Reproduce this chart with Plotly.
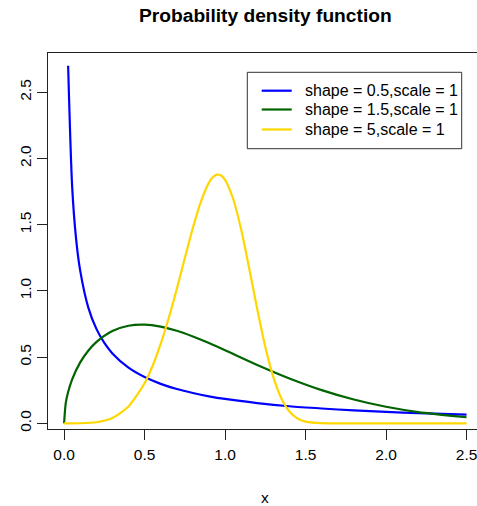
import plotly.graph_objects as go

# Values
x_blue = [0.025, 0.05, 0.075, 0.1, 0.15, 0.2, 0.25, 0.3, 0.4, 0.5, 0.6, 0.7, 0.8, 0.9, 1.0,
          1.2, 1.4, 1.6, 1.8, 2.0, 2.2, 2.5]
y_blue = [2.700, 1.788, 1.388, 1.153, 0.876, 0.715, 0.607, 0.528, 0.420, 0.349, 0.298, 0.259,
          0.229, 0.204, 0.184, 0.153, 0.129, 0.112, 0.097, 0.086, 0.077, 0.065]

x_green = [0.0, 0.01, 0.025, 0.05, 0.1, 0.15, 0.2, 0.3, 0.4, 0.5, 0.6, 0.7, 0.8, 0.9, 1.0,
           1.2, 1.4, 1.6, 1.8, 2.0, 2.2, 2.5]
y_green = [0.0, 0.150, 0.236, 0.332, 0.460, 0.548, 0.613, 0.697, 0.737, 0.745, 0.730, 0.699,
           0.656, 0.606, 0.552, 0.441, 0.339, 0.251, 0.180, 0.125, 0.085, 0.046]

x_gold = [0.0, 0.1, 0.2, 0.3, 0.4, 0.5, 0.55, 0.6, 0.65, 0.7, 0.75, 0.8, 0.85, 0.9, 0.925,
          0.95, 0.975, 1.0, 1.05, 1.1, 1.15, 1.2, 1.25, 1.3, 1.35, 1.4, 1.45, 1.5, 1.6, 1.8,
          2.0, 2.5]
y_gold = [0.0, 0.0005, 0.008, 0.040, 0.127, 0.303, 0.435, 0.600, 0.795, 1.015, 1.248, 1.476,
          1.675, 1.818, 1.860, 1.879, 1.872, 1.839, 1.696, 1.463, 1.170, 0.862, 0.577, 0.349,
          0.188, 0.089, 0.036, 0.013, 0.001, 0.0, 0.0, 0.0]

series_names = ["shape = 0.5,scale = 1", "shape = 1.5,scale = 1", "shape = 5,scale = 1"]
series_colors = ["#0000FF", "#006400", "#FFD700"]
x_ticks = [0.0, 0.5, 1.0, 1.5, 2.0, 2.5]
x_tick_labels = ["0.0", "0.5", "1.0", "1.5", "2.0", "2.5"]
y_ticks = [0.0, 0.5, 1.0, 1.5, 2.0, 2.5]
y_tick_labels = ["0.0", "0.5", "1.0", "1.5", "2.0", "2.5"]

FONT = "Liberation Sans, Arial, sans-serif"

# plot area spans screen x 48..477, y 53..429 (page body margin removed below)
PL, PT, PW, PH = 48.0, 53.0, 429.0, 376.0


def px(sx):
    return (sx - PL) / PW


def py(sy):
    return (PT + PH - sy) / PH


fig = go.Figure()
for xs, ys, name, col in zip([x_blue, x_green, x_gold], [y_blue, y_green, y_gold],
                             series_names, series_colors):
    fig.add_trace(go.Scatter(x=xs, y=ys, mode="lines", name=name, showlegend=False,
                             line=dict(color=col, width=2.2, shape="spline", smoothing=0.7)))

shapes = [dict(type="rect", xref="paper", yref="paper", x0=px(247.3), x1=px(461.7),
               y0=py(148.7), y1=py(72.3), line=dict(color="#333333", width=1),
               fillcolor="white", layer="above")]
annotations = []
row_y = [90.7, 109.5, 129.5]
for name, col, ry in zip(series_names, series_colors, row_y):
    shapes.append(dict(type="line", xref="paper", yref="paper", x0=px(261.7), x1=px(291.7),
                       y0=py(ry), y1=py(ry), line=dict(color=col, width=2.2), layer="above"))
    annotations.append(dict(text=name, xref="paper", yref="paper", x=px(304), y=py(ry),
                            xanchor="left", yanchor="middle", showarrow=False, borderpad=0,
                            font=dict(family=FONT, size=16, color="black")))

annotations += [
    dict(text="<b>Probability density function</b>", xref="x", yref="paper",
         x=1.25, y=py(15), xanchor="center", yanchor="middle",
         showarrow=False, font=dict(family=FONT, size=19.2, color="black")),
    dict(text="x", xref="x", yref="paper", x=1.25, y=py(497),
         xanchor="center", yanchor="middle", showarrow=False,
         font=dict(family=FONT, size=15.5, color="black")),
]

fig.update_layout(
    width=477, height=506,
    margin=dict(l=48, r=0, t=53, b=77),
    paper_bgcolor="white", plot_bgcolor="white",
    font=dict(family=FONT, size=15.5, color="black"),
    showlegend=False,
    shapes=shapes,
    annotations=annotations,
)
fig.update_xaxes(range=[-0.1, 2.565], tickvals=x_ticks, ticktext=x_tick_labels,
                 showgrid=False, zeroline=False, showline=True, linecolor="#222222",
                 linewidth=1, mirror=True, ticks="outside", ticklen=10, tickcolor="#222222",
                 ticklabelstandoff=1, automargin=False, ticklabeloverflow="allow")
fig.update_yaxes(range=[-0.043, 2.797], tickvals=y_ticks, ticktext=y_tick_labels,
                 showgrid=False, zeroline=False, showline=True, linecolor="#222222",
                 linewidth=1, mirror=False, ticks="outside", ticklen=10, tickcolor="#222222",
                 tickangle=-90, ticklabelstandoff=0, automargin=False,
                 ticklabeloverflow="allow")

fig.write_html("out.html",
               config={"displayModeBar": False},
               post_script="document.body.style.margin='0px';"
                           "document.body.style.overflow='hidden';")
